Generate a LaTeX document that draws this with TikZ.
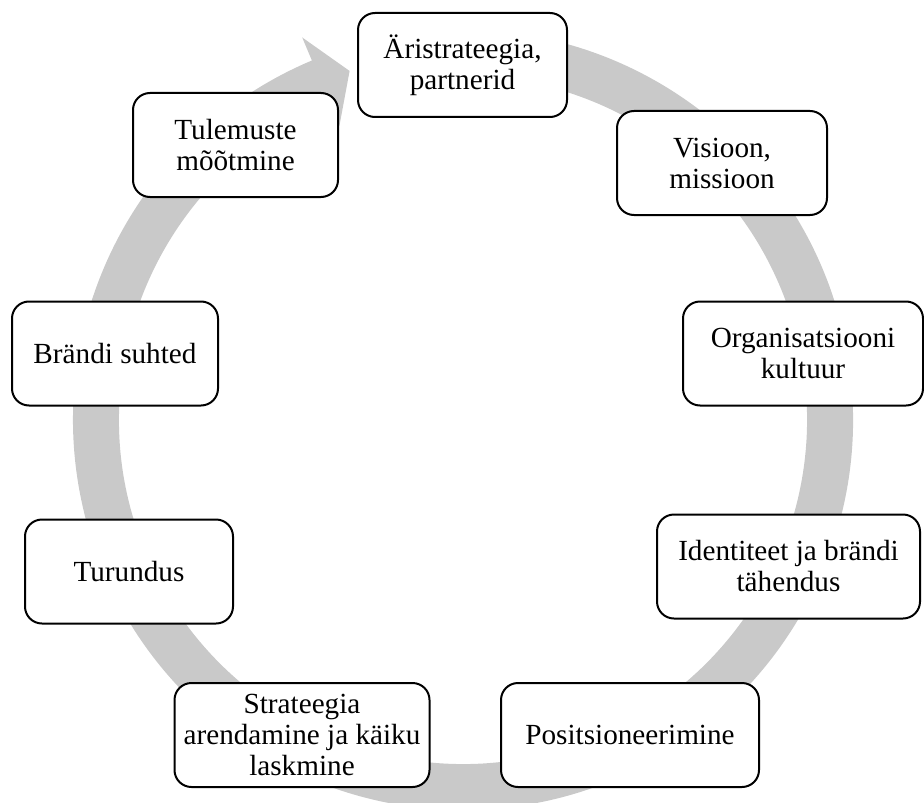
\documentclass[tikz,border=0pt]{standalone}
\usepackage{fontspec}
\setmainfont{Liberation Serif}
\usetikzlibrary{positioning}
\definecolor{Cring}{RGB}{201,201,201}
\tikzset{
  stagebox/.style={draw=black, fill=white, rounded corners=8.5pt, line width=1pt,
    align=center, inner sep=2pt, minimum height=52pt,
    font=\fontsize{14.6}{15.5}\selectfont},
}

\begin{document}
\begin{tikzpicture}[x=0.5pt, y=0.5pt]
\useasboundingbox (0,0) rectangle (924,-802);

%%==========================================================================
%% CYCLE ARROW (one grey ring, head pointing at the first stage)
%%==========================================================================
\begin{scope}[shift={(463,-420)}]
  \fill[Cring] (100:390) arc[start angle=100, end angle=-247.2, radius=390]
    -- (-247.2:415) -- (-252:367) -- (-247.2:319) -- (-247.2:344)
    arc[start angle=-247.2, end angle=100, radius=344] -- cycle;
\end{scope}

%%==========================================================================
%% STAGES (clockwise from the top)
%%==========================================================================
\node[stagebox, minimum width=104.5pt] (strat)   at (462.5,-65)  {Äristrateegia,\\partnerid};
\node[stagebox, minimum width=105pt]   (vision)  at (722,-163)   {Visioon,\\missioon};
\node[stagebox, minimum width=120pt]   (culture) at (803,-353.5) {Organisatsiooni\\kultuur};
\node[stagebox, minimum width=131.5pt] (ident)   at (788.5,-566.5) {Identiteet ja brändi\\tähendus};
\node[stagebox, minimum width=129pt]   (posit)   at (630,-735)   {Positsioneerimine};
\node[stagebox, minimum width=127.5pt] (launch)  at (302,-735)   {Strateegia\\arendamine ja käiku\\laskmine};
\node[stagebox, minimum width=104pt]   (market)  at (129,-571.5) {Turundus};
\node[stagebox, minimum width=103pt]   (relat)   at (115,-353.5) {Brändi suhted};
\node[stagebox, minimum width=102.5pt] (measure) at (235.5,-145) {Tulemuste\\mõõtmine};

\end{tikzpicture}
\end{document}
